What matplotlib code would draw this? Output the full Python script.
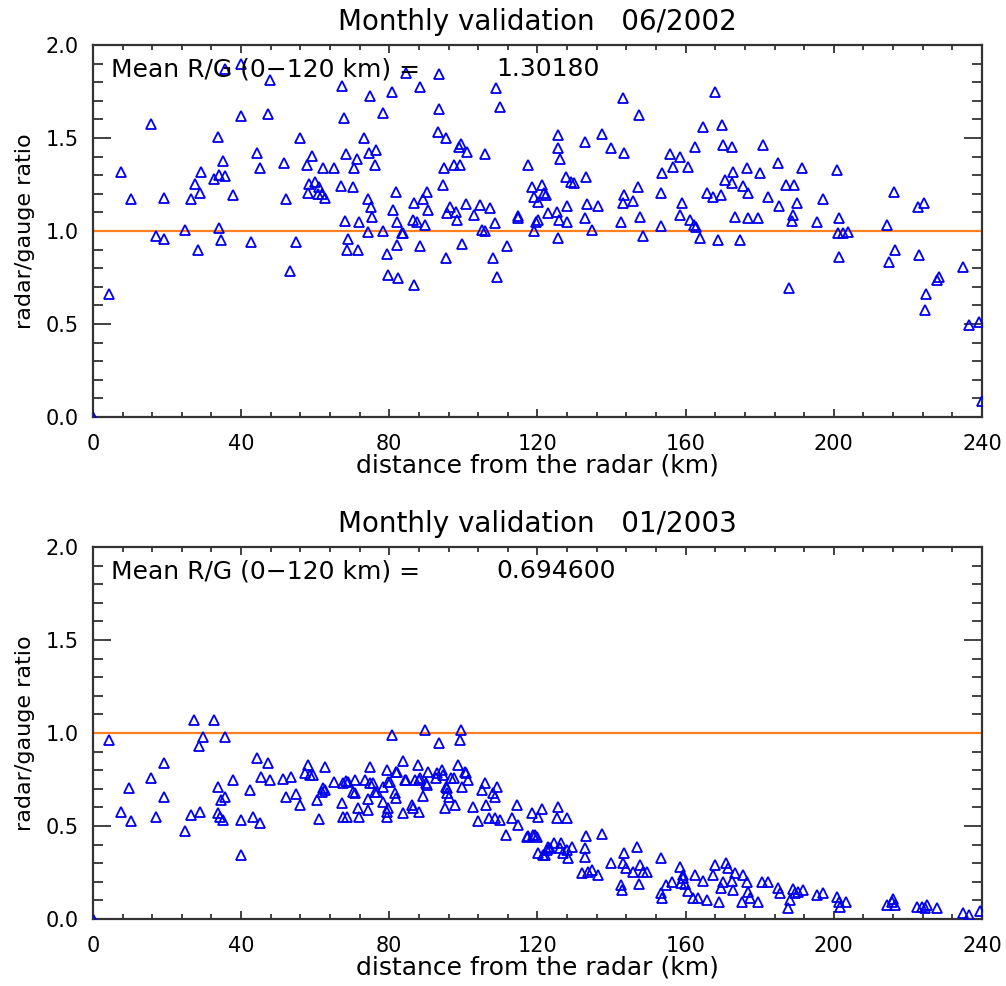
"""
Radar/gauge monthly validation scatter plots (06/2002 and 01/2003).
"""

import matplotlib
matplotlib.use("Agg")
import matplotlib.pyplot as plt
from matplotlib.ticker import MultipleLocator

# 06/2002 : distance from radar (km) and radar/gauge ratio
dist_jun = [
    0.0, 4.3, 7.6, 10.4, 15.8, 16.9, 19.2, 19.2, 24.8, 26.5, 27.5, 28.9, 29.3, 28.4,
    32.8, 33.8, 34.1, 35.2, 35.6, 34.1, 34.7, 37.9, 35.6, 40.1, 40.1, 42.6, 44.2,
    45.1, 47.3, 47.8, 51.6, 52.0, 53.2, 54.8, 55.9, 57.7, 59.0, 58.1, 58.4, 59.9,
    61.1, 60.8, 61.7, 62.6, 62.2, 65.1, 67.0, 67.3, 67.8, 68.3, 68.0, 68.8, 68.5,
    70.3, 70.6, 71.3, 71.6, 71.9, 73.3, 74.8, 74.6, 76.4, 76.1, 74.2, 75.0, 75.3,
    74.3, 78.2, 78.4, 79.3, 79.7,
    80.6, 82.3, 82.0, 81.1, 81.8, 82.2, 83.8, 83.3, 84.4, 86.5, 86.7, 86.7, 87.6,
    88.3, 88.3, 89.2, 89.6, 90.1, 90.5, 93.5, 93.5, 93.1, 95.3, 94.8, 94.6, 95.3,
    95.7, 96.3, 97.5, 98.8, 99.4, 99.1, 98.4, 97.9, 99.7, 100.9, 100.7, 102.9,
    104.5, 104.9, 105.8, 105.8, 107.2, 108.1, 108.5, 108.8, 109.9, 109.1, 111.7,
    114.7, 114.7, 117.5, 118.4, 119.0, 119.0, 119.7, 120.2, 120.2, 121.1, 121.8,
    122.4, 122.9, 125.4, 125.6, 125.6, 126.1, 125.8, 125.6, 127.9, 127.9, 127.7,
    129.0, 129.9, 132.8, 133.1, 132.8, 133.5, 134.8, 136.4, 137.3, 139.8, 142.5,
    143.1, 143.4, 143.4, 143.1, 145.9, 147.2, 147.4, 147.7, 148.6, 153.3, 153.3,
    153.5, 155.8, 156.7, 158.5, 158.5, 158.9,
    160.7, 161.2, 162.5, 162.3, 162.8, 163.9, 164.6, 165.7, 167.3, 167.9, 168.8,
    169.5, 169.7, 170.2, 172.4, 170.6, 172.4, 172.9, 173.3, 174.7, 175.6, 176.9,
    176.7, 176.9, 179.6, 180.1, 180.8, 182.3, 185.0, 185.3, 187.1, 189.3, 188.0,
    188.6, 189.1, 190.0, 191.4, 195.4, 197.0, 200.8, 201.5, 201.2, 202.6, 203.9,
    201.5, 214.3, 215.0, 216.5, 216.3, 222.6, 224.4, 223.1, 224.9, 224.6, 227.8,
    228.5, 235.0, 236.4, 239.3, 240.0,
]
ratio_jun = [
    0.0, 0.66, 1.315, 1.17, 1.575, 0.973, 0.96, 1.18, 1.005, 1.17, 1.253, 1.207, 1.315, 0.90,
    1.278, 1.507, 1.30, 1.378, 1.296, 1.014, 0.952, 1.194, 1.87, 1.90, 1.618, 0.943, 1.421,
    1.34, 1.629, 1.812, 1.364, 1.17, 0.787, 0.943, 1.498, 1.355, 1.403, 1.203, 1.253, 1.265,
    1.237, 1.20, 1.20, 1.18, 1.34, 1.34, 1.244, 1.78, 1.606, 1.414, 1.055, 0.96, 0.90,
    1.237, 1.337, 1.387, 0.90, 1.05, 1.498, 1.726, 1.42, 1.435, 1.355, 1.17, 1.13, 1.077,
    0.996, 1.636, 1.0, 0.876, 0.763,
    1.75, 0.746, 0.925, 1.113, 1.211, 1.05, 0.991, 0.99, 1.851, 1.06, 1.149, 0.71, 1.05,
    1.776, 0.919, 1.175, 1.032, 1.211, 1.113, 1.844, 1.654, 1.534, 1.498, 1.337, 1.248, 0.853,
    1.095, 1.13, 1.355, 1.453, 1.47, 1.355, 1.06, 1.105, 0.93, 1.426, 1.145, 1.086,
    1.14, 1.005, 1.417, 1.0, 1.122, 0.853, 1.045, 1.767, 1.665, 0.754, 0.919,
    1.081, 1.07, 1.355, 1.237, 1.185, 1.0, 1.05, 1.158, 1.06, 1.248, 1.203,
    1.194, 1.098, 1.104, 1.516, 1.445, 1.385, 1.062, 0.961, 1.134, 1.05, 1.292,
    1.265, 1.26, 1.48, 1.292, 1.068, 1.145, 1.005, 1.136, 1.52, 1.445, 1.05,
    1.713, 1.421, 1.194, 1.149, 1.161, 1.237, 1.624, 1.077, 0.973, 1.027, 1.203,
    1.31, 1.417, 1.346, 1.40, 1.086, 1.152,
    1.346, 1.059, 1.453, 1.032, 1.023, 0.961, 1.557, 1.203, 1.185, 1.749, 0.952,
    1.194, 1.57, 1.462, 1.453, 1.274, 1.256, 1.319, 1.077, 0.952, 1.244, 1.203,
    1.34, 1.068, 1.068, 1.31, 1.462, 1.185, 1.367, 1.134, 1.248, 1.248, 0.692,
    1.055, 1.086, 1.149, 1.34, 1.05, 1.17, 1.328, 1.068, 0.988, 0.991, 0.996,
    0.862, 1.032, 0.835, 0.90, 1.211, 1.13, 1.152, 0.871, 0.66, 0.575, 0.737,
    0.751, 0.805, 0.495, 0.512, 0.088,
]

# 01/2003
dist_jan = [
    0.0, 4.3, 7.6, 9.8, 10.4, 15.8, 17.0, 19.2, 19.2, 24.8, 26.5, 27.4, 28.9, 28.5, 29.6,
    32.7, 35.6, 33.8, 34.6, 35.6, 33.7, 34.3, 35.2, 37.9, 40.1, 40.1, 42.4, 43.1, 45.1,
    44.2, 45.3, 47.3, 47.9, 51.4, 53.4, 52.1, 54.8, 55.9, 57.2, 58.1, 58.6, 59.3, 62.6,
    60.4, 61.1, 61.7, 62.2, 62.6, 65.1, 67.1, 67.6, 68.5, 67.4, 68.3, 68.9, 70.3, 70.7,
    70.7, 71.6, 71.9, 73.4, 74.8, 74.8, 74.3, 74.3, 75.7, 76.1, 76.6, 78.2, 78.4, 79.3,
    79.3, 79.3, 79.7,
    80.6, 81.8, 83.8, 80.2, 81.6, 81.8, 83.8, 84.2, 86.0, 86.5, 87.8, 88.1, 89.2, 88.1,
    89.6, 90.5, 90.1, 93.5, 92.8, 94.1, 94.6, 95.3, 95.7, 95.0, 96.0, 97.5, 97.7, 98.6,
    99.3, 99.1, 99.5, 100.7, 101.3, 102.7, 104.0, 104.9, 105.8, 106.1, 107.0, 108.1,
    108.5, 109.0, 108.5, 109.9, 111.5, 113.0, 114.6, 114.8, 117.1, 118.4, 118.9, 119.8,
    121.1, 120.2, 121.6, 122.5, 82.0, 84.5, 87.0, 88.3, 89.9, 92.7, 96.7, 95.5, 79.7,
    100.4, 120.2, 117.5, 119.3,
    125.6, 125.4, 127.9, 124.6, 126.4, 126.0, 127.9, 128.3, 129.2, 122.9, 122.0, 123.4,
    126.9, 132.8, 132.8, 133.1, 137.3, 131.9, 134.6, 136.4, 133.7, 139.8, 142.5, 142.9,
    143.4, 143.1, 143.8, 145.9, 147.0, 147.4, 147.7, 148.6, 149.5, 153.3, 153.3, 153.7,
    154.8, 156.2, 158.5, 158.8, 159.4,
    159.4, 159.8, 160.7, 162.5, 162.1, 163.4, 164.6, 165.7, 167.5, 167.9, 169.1, 169.5,
    170.0, 170.9, 171.5, 172.5, 172.9, 173.4, 175.1, 175.6, 176.5, 176.9, 177.4, 179.6,
    180.5, 182.3, 185.0, 185.5, 187.7, 188.2, 189.1, 189.5, 190.4, 191.6, 195.4, 197.2,
    200.8, 201.5, 201.7, 203.4, 214.3, 215.6, 216.5, 216.1, 222.5, 223.8, 224.7, 225.2,
    227.8, 234.8, 236.4, 239.5,
]
ratio_jan = [
    0.0, 0.962, 0.577, 0.703, 0.529, 0.756, 0.55, 0.837, 0.654, 0.475, 0.559, 1.07, 0.577, 0.93, 0.977,
    1.07, 0.977, 0.711, 0.64, 0.654, 0.568, 0.55, 0.532, 0.747, 0.344, 0.532, 0.694, 0.55, 0.514,
    0.864, 0.765, 0.837, 0.747, 0.752, 0.765, 0.654, 0.672, 0.613, 0.783, 0.828, 0.776, 0.776, 0.816,
    0.64, 0.536, 0.684, 0.703, 0.694, 0.738, 0.622, 0.55, 0.55, 0.729, 0.743, 0.738, 0.684, 0.747,
    0.675, 0.595, 0.55, 0.747, 0.816, 0.729, 0.643, 0.586, 0.729, 0.684, 0.684, 0.711, 0.631, 0.801,
    0.577, 0.55, 0.738,
    0.989, 0.788, 0.851, 0.738, 0.676, 0.648, 0.568, 0.747, 0.613, 0.595, 0.828, 0.747, 0.661, 0.577,
    1.016, 0.788, 0.72, 0.944, 0.783, 0.80, 0.774, 0.711, 0.676, 0.595, 0.657, 0.756, 0.613, 0.828,
    1.016, 0.962, 0.711, 0.783, 0.747, 0.604, 0.529, 0.693, 0.729, 0.613, 0.541, 0.676,
    0.657, 0.711, 0.541, 0.532, 0.452, 0.541, 0.613, 0.505, 0.443, 0.568, 0.452, 0.443,
    0.591, 0.353, 0.344, 0.371, 0.792, 0.747, 0.747, 0.756, 0.729, 0.756, 0.756, 0.703, 0.595,
    0.792, 0.55, 0.446, 0.451,
    0.604, 0.541, 0.541, 0.407, 0.407, 0.38, 0.371, 0.326, 0.389, 0.389, 0.344, 0.38,
    0.353, 0.38, 0.335, 0.446, 0.457, 0.246, 0.263, 0.237, 0.25, 0.30, 0.183, 0.156,
    0.353, 0.303, 0.273, 0.255, 0.389, 0.187, 0.29, 0.255, 0.25, 0.326, 0.138, 0.111,
    0.183, 0.201, 0.281, 0.192, 0.237,
    0.22, 0.188, 0.151, 0.237, 0.111, 0.111, 0.203, 0.102, 0.237, 0.29, 0.093, 0.165,
    0.2, 0.303, 0.273, 0.203, 0.156, 0.246, 0.093, 0.237, 0.2, 0.147, 0.111, 0.093,
    0.2, 0.2, 0.165, 0.142, 0.057, 0.102, 0.16, 0.138, 0.147, 0.156, 0.129, 0.138,
    0.12, 0.093, 0.066, 0.093, 0.075, 0.093, 0.075, 0.107, 0.064, 0.066, 0.057, 0.075,
    0.057, 0.03, 0.021, 0.045,
]

titles = ["Monthly validation   06/2002", "Monthly validation   01/2003"]
mean_values = ["1.30180", "0.694600"]

AXIS_COLOR = "#333333"
FONT = ["DejaVu Sans"]


def draw_panel(ax, dist, ratio, title, mean_value):
    ax.axhline(1.0, color="#ff8020", lw=1.6, zorder=2)
    ax.plot(dist, ratio, linestyle="none", marker="^", ms=7.5, mfc="none",
            mec="#0000ee", mew=1.3, zorder=3)

    ax.set_xlim(0, 240)
    ax.set_ylim(0, 2.0)
    ax.xaxis.set_major_locator(MultipleLocator(40))
    ax.xaxis.set_minor_locator(MultipleLocator(8))
    ax.yaxis.set_major_locator(MultipleLocator(0.5))
    ax.yaxis.set_minor_locator(MultipleLocator(0.1))
    ax.yaxis.set_major_formatter(plt.FormatStrFormatter("%.1f"))

    ax.tick_params(axis="both", which="both", direction="in", top=True, right=True,
                   color=AXIS_COLOR, width=1.3, labelsize=15, pad=10)
    ax.tick_params(axis="x", which="major", length=6, pad=12)
    ax.tick_params(axis="x", which="minor", length=3.5)
    ax.tick_params(axis="y", which="major", length=13)
    ax.tick_params(axis="y", which="minor", length=7)
    for spine in ax.spines.values():
        spine.set_color(AXIS_COLOR)
        spine.set_linewidth(1.6)

    ax.set_title(title, fontsize=20, pad=11)
    ax.set_xlabel("distance from the radar (km)", fontsize=18, labelpad=0)
    ax.set_ylabel("radar/gauge ratio", fontsize=16, labelpad=8)

    ax.text(4.8, 1.87, "Mean R/G (0\u2212120 km) =", fontsize=18, va="center", ha="left")
    ax.text(109, 1.87, mean_value, fontsize=18, va="center", ha="left")


def main():
    plt.rcParams["font.family"] = FONT
    fig = plt.figure(figsize=(10.06, 9.86), dpi=100)
    ax_top = fig.add_axes([0.0924, 0.577, 0.8837, 0.3773])
    ax_bot = fig.add_axes([0.0924, 0.068, 0.8837, 0.3772])

    draw_panel(ax_top, dist_jun, ratio_jun, titles[0], mean_values[0])
    draw_panel(ax_bot, dist_jan, ratio_jan, titles[1], mean_values[1])

    fig.savefig("out.png", dpi=100)
    plt.close(fig)


if __name__ == "__main__":
    main()
